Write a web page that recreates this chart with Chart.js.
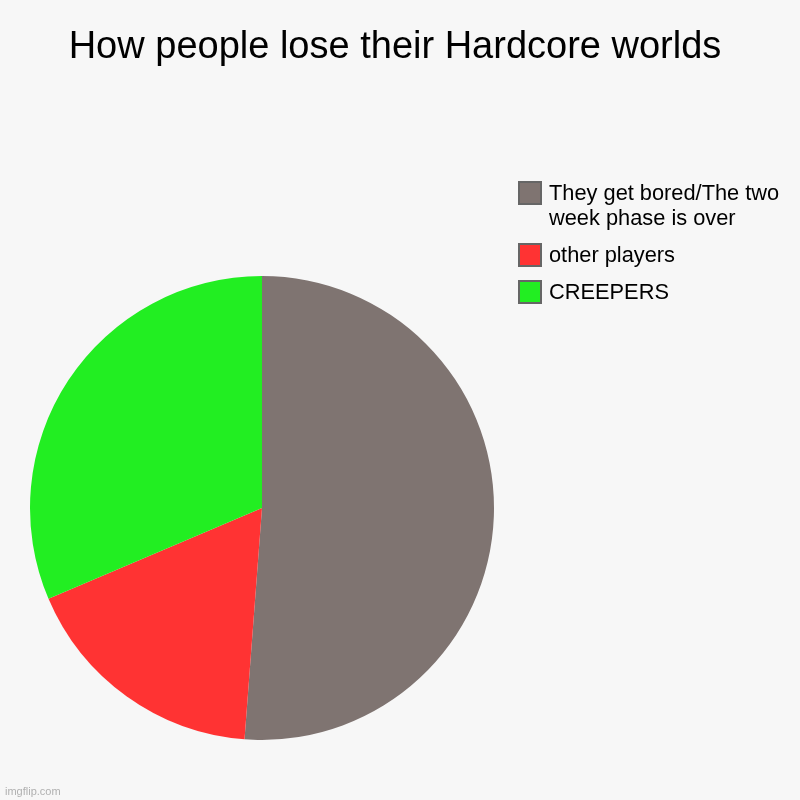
<!DOCTYPE html>
<html>
<head>
<meta charset="utf-8">
<script src="https://cdn.jsdelivr.net/npm/chart.js@4"></script>
<style>
  html, body { margin: 0; padding: 0; background: #f7f7f7; }
  #wrap { width: 800px; height: 800px; position: relative; }
</style>
</head>
<body>
<div id="wrap"><canvas id="pieChart" width="800" height="800"></canvas></div>
<script>
// データ
let titleText = 'How people lose their Hardcore worlds';
let labels = ['They get bored/The two week phase is over', 'other players', 'CREEPERS'];
let values = [51.2, 17.4, 31.4];
let colors = ['#7f7471', '#ff3333', '#22ee22'];

// タイトル・凡例・透かしを自前で描く
let sideLegend = {
  id: 'sideLegend',
  afterDraw(chart) {
    let ctx = chart.ctx;
    ctx.save();

    ctx.font = '38px "Liberation Sans", Arial, sans-serif';
    ctx.fillStyle = '#000000';
    ctx.textAlign = 'center';
    ctx.textBaseline = 'middle';
    ctx.fillText(titleText, 395, 48);

    ctx.textAlign = 'left';
    ctx.font = '21.8px "Liberation Sans", Arial, sans-serif';
    let y = 194;
    chart.data.labels.forEach((label, i) => {
      // テキストを折り返す
      let words = label.split(' ');
      let lines = [];
      let line = '';
      words.forEach(w => {
        let test = line ? line + ' ' + w : w;
        if (ctx.measureText(test).width > 240 && line) {
          lines.push(line);
          line = w;
        } else {
          line = test;
        }
      });
      lines.push(line);

      ctx.fillStyle = chart.data.datasets[0].backgroundColor[i];
      ctx.fillRect(519, y - 12, 22, 22);
      ctx.strokeStyle = '#666666';
      ctx.lineWidth = 2;
      ctx.strokeRect(519, y - 12, 22, 22);

      ctx.fillStyle = '#000000';
      lines.forEach((l, j) => ctx.fillText(l, 549, y + j * 25));
      y += lines.length * 25 + 12;
    });

    ctx.font = '11px "Liberation Sans", Arial, sans-serif';
    ctx.fillStyle = '#b0b0b0';
    ctx.textBaseline = 'alphabetic';
    ctx.fillText('imgflip.com', 5, 795);
    ctx.restore();
  }
};

let bgPlugin = {
  id: 'bg',
  beforeDraw(chart) {
    let ctx = chart.ctx;
    ctx.save();
    ctx.fillStyle = '#f7f7f7';
    ctx.fillRect(0, 0, chart.width, chart.height);
    ctx.restore();
  }
};

let pieConfig = {
  type: 'pie',
  data: {
    labels: labels,
    datasets: [{
      data: values,
      backgroundColor: colors,
      borderWidth: 0
    }]
  },
  options: {
    responsive: false,
    animation: false,
    plugins: {
      legend: { display: false },
      tooltip: { enabled: false },
      title: { display: false }
    },
    layout: {
      padding: { left: 30, right: 306, top: 236, bottom: 20 }
    }
  },
  plugins: [bgPlugin, sideLegend]
};

let pieChart = new Chart(document.getElementById('pieChart'), pieConfig);
</script>
</body>
</html>
